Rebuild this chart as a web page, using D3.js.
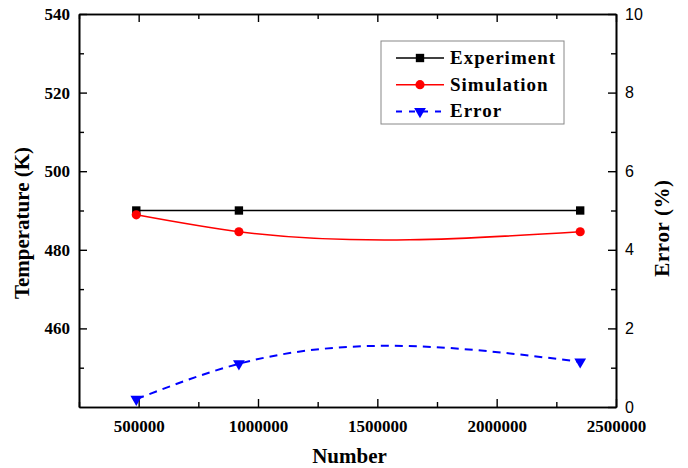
<!DOCTYPE html>
<html>
<head>
<meta charset="utf-8">
<script src="https://cdn.jsdelivr.net/npm/d3@7"></script>
<style>
  body { margin: 0; background: #fff; }
  svg text { font-family: "Liberation Serif", "Times New Roman", serif; }
</style>
</head>
<body>
<svg id="chart" width="688" height="468"></svg>
<script>
// data
const numbers = [490000, 920000, 2350000];
const experiment = [490, 490, 490];
const simulation = [488.9, 484.6, 484.6];
const errorPct = [0.2, 1.1, 1.15];

const xMajor = [500000, 1000000, 1500000, 2000000, 2500000];
const xMinor = [250000, 750000, 1250000, 1750000, 2250000];
const tMajor = [460, 480, 500, 520, 540];
const tMinor = [450, 470, 490, 510, 530];
const eMajor = [0, 2, 4, 6, 8, 10];
const eMinor = [1, 3, 5, 7, 9];

const margin = {left: 79, top: 14, right: 72, bottom: 61};
const W = 688, H = 468;
const w = W - margin.left - margin.right;
const h = H - margin.top - margin.bottom;

// natural cubic spline in x (like Origin's "spline" line connection)
function SplineX(context) { this._context = context; }
SplineX.prototype = {
  areaStart: function() { this._line = 0; },
  areaEnd: function() { this._line = NaN; },
  lineStart: function() { this._x = []; this._y = []; },
  point: function(x, y) { this._x.push(+x); this._y.push(+y); },
  lineEnd: function() {
    var X = this._x, Y = this._y, n = X.length, ctx = this._context;
    if (!n) return;
    ctx.moveTo(X[0], Y[0]);
    if (n < 3) { for (var k = 1; k < n; k++) ctx.lineTo(X[k], Y[k]); return; }
    var hh = [], i;
    for (i = 0; i < n - 1; i++) hh.push(X[i + 1] - X[i]);
    // tridiagonal system for inner second derivatives
    var M = new Array(n).fill(0), a = [], b = [], c = [], r = [];
    for (i = 1; i < n - 1; i++) {
      a.push(hh[i - 1]); b.push(2 * (hh[i - 1] + hh[i])); c.push(hh[i]);
      r.push(6 * ((Y[i + 1] - Y[i]) / hh[i] - (Y[i] - Y[i - 1]) / hh[i - 1]));
    }
    var m = b.length;
    for (i = 1; i < m; i++) {
      var f = a[i] / b[i - 1];
      b[i] -= f * c[i - 1]; r[i] -= f * r[i - 1];
    }
    var sol = new Array(m);
    sol[m - 1] = r[m - 1] / b[m - 1];
    for (i = m - 2; i >= 0; i--) sol[i] = (r[i] - c[i] * sol[i + 1]) / b[i];
    for (i = 0; i < m; i++) M[i + 1] = sol[i];
    for (i = 0; i < n - 1; i++) {
      var s = (Y[i + 1] - Y[i]) / hh[i];
      var d0 = s - hh[i] * (2 * M[i] + M[i + 1]) / 6;
      var d1 = s + hh[i] * (M[i] + 2 * M[i + 1]) / 6;
      ctx.bezierCurveTo(X[i] + hh[i] / 3, Y[i] + hh[i] * d0 / 3,
                        X[i + 1] - hh[i] / 3, Y[i + 1] - hh[i] * d1 / 3,
                        X[i + 1], Y[i + 1]);
    }
  }
};
const curveSplineX = context => new SplineX(context);

const svg = d3.select("#chart");
const g = svg.append("g").attr("transform", `translate(${margin.left},${margin.top})`);

const x = d3.scaleLinear().domain([250000, 2500000]).range([0, w]);
const yT = d3.scaleLinear().domain([440, 540]).range([h, 0]);
const yE = d3.scaleLinear().domain([0, 10]).range([h, 0]);

function styleAxis(sel, fontFam, weight, size) {
  sel.selectAll("path").attr("stroke", "#000").attr("stroke-width", 1.6);
  sel.selectAll("line").attr("stroke", "#000").attr("stroke-width", 1.4);
  sel.selectAll("text")
    .attr("fill", "#000")
    .style("font-family", fontFam)
    .style("font-weight", weight)
    .style("font-size", size + "px");
}
const serif = '"Liberation Serif", "Times New Roman", serif';
const sans = '"Liberation Sans", Arial, sans-serif';

// bottom axis
g.append("g").attr("transform", `translate(0,${h})`)
  .call(d3.axisBottom(x).tickValues(xMajor).tickSize(-8).tickSizeOuter(0).tickPadding(13).tickFormat(d3.format("d")))
  .call(s => styleAxis(s, serif, "bold", 17));
g.append("g").attr("transform", `translate(0,${h})`)
  .call(d3.axisBottom(x).tickValues(xMinor).tickSize(-5).tickSizeOuter(0).tickFormat(""))
  .call(s => styleAxis(s, serif, "bold", 17));

// top axis
g.append("g")
  .call(d3.axisTop(x).tickValues(xMajor).tickSize(-8).tickSizeOuter(0).tickFormat(""))
  .call(s => styleAxis(s, serif, "bold", 17));
g.append("g")
  .call(d3.axisTop(x).tickValues(xMinor).tickSize(-5).tickSizeOuter(0).tickFormat(""))
  .call(s => styleAxis(s, serif, "bold", 17));

// left axis (temperature)
g.append("g")
  .call(d3.axisLeft(yT).tickValues(tMajor).tickSize(-8).tickSizeOuter(0).tickPadding(9).tickFormat(d3.format("d")))
  .call(s => styleAxis(s, serif, "bold", 17));
g.append("g")
  .call(d3.axisLeft(yT).tickValues(tMinor).tickSize(-5).tickSizeOuter(0).tickFormat(""))
  .call(s => styleAxis(s, serif, "bold", 17));

// right axis (error)
g.append("g").attr("transform", `translate(${w},0)`)
  .call(d3.axisRight(yE).tickValues(eMajor).tickSize(-8).tickSizeOuter(0).tickPadding(9).tickFormat(d3.format("d")))
  .call(s => styleAxis(s, sans, "normal", 16));
g.append("g").attr("transform", `translate(${w},0)`)
  .call(d3.axisRight(yE).tickValues(eMinor).tickSize(-5).tickSizeOuter(0).tickFormat(""))
  .call(s => styleAxis(s, sans, "normal", 16));

// axis titles
svg.append("text")
  .attr("x", margin.left + w / 2 + 2).attr("y", 463)
  .attr("text-anchor", "middle")
  .style("font-weight", "bold").style("font-size", "21px")
  .text("Number");
svg.append("text")
  .attr("transform", "translate(29,223) rotate(-90)")
  .attr("text-anchor", "middle")
  .style("font-weight", "bold").style("font-size", "21px")
  .text("Temperature (K)");
svg.append("text")
  .attr("transform", "translate(669,228) rotate(-90)")
  .attr("text-anchor", "middle")
  .style("font-weight", "bold").style("font-size", "21px")
  .style("letter-spacing", "0.6px")
  .text("Error (%)");

// series
const expPts = numbers.map((n, i) => [x(n), yT(experiment[i])]);
const simPts = numbers.map((n, i) => [x(n), yT(simulation[i])]);
const errPts = numbers.map((n, i) => [x(n), yE(errorPct[i])]);

g.append("path").attr("d", d3.line()(expPts))
  .attr("fill", "none").attr("stroke", "#000").attr("stroke-width", 1.6);
g.append("path").attr("d", d3.line().curve(curveSplineX)(simPts))
  .attr("fill", "none").attr("stroke", "#ff0000").attr("stroke-width", 1.6);
g.append("path").attr("d", d3.line().curve(curveSplineX)(errPts))
  .attr("fill", "none").attr("stroke", "#0000ff").attr("stroke-width", 2)
  .attr("stroke-dasharray", "8,6");

const sq = d3.symbol().type(d3.symbolSquare).size(70);
const ci = d3.symbol().type(d3.symbolCircle).size(66);
const tri = d3.symbol().type(d3.symbolTriangle).size(60);

g.selectAll(".exp").data(expPts).enter().append("path")
  .attr("d", sq).attr("transform", d => `translate(${d[0]},${d[1]})`).attr("fill", "#000");
g.selectAll(".sim").data(simPts).enter().append("path")
  .attr("d", ci).attr("transform", d => `translate(${d[0]},${d[1]})`).attr("fill", "#ff0000");
g.selectAll(".err").data(errPts).enter().append("path")
  .attr("d", tri).attr("transform", d => `translate(${d[0]},${d[1]}) rotate(180)`).attr("fill", "#0000ff");

// legend
const lg = svg.append("g");
lg.append("rect").attr("x", 381).attr("y", 41).attr("width", 183).attr("height", 83)
  .attr("fill", "#fff").attr("stroke", "#888").attr("stroke-width", 1);
const legendItems = [
  {name: "Experiment", color: "#000", sym: sq, rot: 0, dash: null, width: 1.6},
  {name: "Simulation", color: "#ff0000", sym: ci, rot: 0, dash: null, width: 1.6},
  {name: "Error", color: "#0000ff", sym: tri, rot: 180, dash: "6,7", width: 2}
];
legendItems.forEach((it, i) => {
  const yy = 58 + i * 26.7;
  lg.append("line").attr("x1", 396).attr("x2", 444).attr("y1", yy).attr("y2", yy)
    .attr("stroke", it.color).attr("stroke-width", it.width)
    .attr("stroke-dasharray", it.dash);
  lg.append("path").attr("d", it.sym)
    .attr("transform", `translate(420,${yy}) rotate(${it.rot})`).attr("fill", it.color);
  lg.append("text").attr("x", 450).attr("y", yy + 6)
    .style("font-weight", "bold").style("font-size", "19px")
    .style("letter-spacing", "1px")
    .text(it.name);
});
</script>
</body>
</html>
